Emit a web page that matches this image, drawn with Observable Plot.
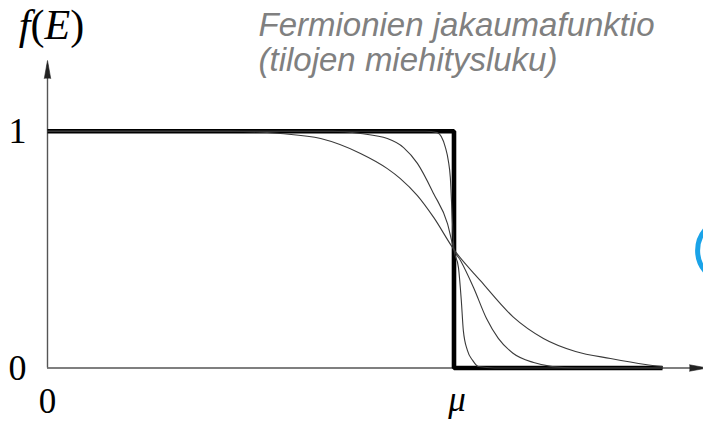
<!DOCTYPE html>
<html>
<head>
<meta charset="utf-8">
<script src="https://cdn.jsdelivr.net/npm/d3@7"></script>
<script src="https://cdn.jsdelivr.net/npm/@observablehq/plot@0.6"></script>
<style>
  html, body { margin: 0; padding: 0; background: #fff; overflow: hidden; }
  #chart svg { display: block; overflow: hidden; }
</style>
</head>
<body>
<div id="chart"></div>
<script>
// Energy E in units of the chemical potential μ, f = occupation number.

// T = 0: sharp step at μ
const stepE = [0, 1, 1, 1.513];
const stepF = [1, 1, 0, 0];

// low temperature
const lowE = [0, 0.93, 0.959, 0.979, 0.986, 0.991, 0.996, 1.0, 1.011, 1.018, 1.023, 1.033, 1.046, 1.060, 1.10, 1.513];
const lowF = [1, 1, 0.994, 0.931, 0.876, 0.804, 0.623, 0.5, 0.424, 0.285, 0.158, 0.074, 0.032, 0.006, 0, 0];

// medium temperature
const midE = [0, 0.70, 0.770, 0.836, 0.876, 0.910, 0.950, 0.984, 1.0, 1.016, 1.048, 1.080, 1.109, 1.146, 1.196, 1.242, 1.30, 1.513];
const midF = [1, 1, 0.990, 0.969, 0.931, 0.864, 0.736, 0.610, 0.5, 0.454, 0.340, 0.209, 0.125, 0.061, 0.023, 0.006, 0, 0];

// high temperature
const highE = [0, 0.45, 0.573, 0.672, 0.770, 0.836, 0.868, 0.910, 0.950, 1.0, 1.065, 1.146, 1.220, 1.299, 1.385, 1.471, 1.513];
const highF = [1, 1, 0.990, 0.969, 0.906, 0.842, 0.800, 0.728, 0.636, 0.5, 0.369, 0.215, 0.125, 0.070, 0.040, 0.015, 0.006];

// axis ticks
const yTickValues = [1, 0];
const yTickLabels = ["1", "0"];
const xTickValues = [0, 1];
const xTickLabels = ["0", "μ"];

const axisLabel = "f(E)";
const title = "Fermionien jakaumafunktio\n(tilojen miehitysluku)";

// blue ring at the right edge
const ringE = [1.678];
const ringF = [0.496];

const rows = (es, fs) => es.map((e, i) => ({E: e, f: fs[i]}));

const xMax = 1.6138;   // right end of the E axis
const yMax = 1.2986;   // top of the f axis
const xArrowTip = 1.6236;

const axisColor = "#555";
const thin = {x: "E", y: "f", stroke: "#3a3a3a", strokeWidth: 1.1, curve: "monotone-x"};
const serif = "Liberation Serif, Times New Roman, serif";

const svg = Plot.plot({
  width: 703,
  height: 421,
  marginLeft: 47,
  marginRight: 0,
  marginTop: 60,
  marginBottom: 53.5,
  x: {domain: [0, xMax], axis: null},
  y: {domain: [0, yMax], axis: null},
  marks: [
    // axes
    Plot.ruleY([0], {x1: 0, x2: xArrowTip - 0.02, stroke: axisColor, strokeWidth: 1.4}),
    Plot.ruleX([0], {y1: 0, y2: yMax - 0.02, stroke: axisColor, strokeWidth: 1.4}),
    Plot.vector([{E: 0, f: yMax}], {x: "E", y: "f", rotate: 0, length: 18, r: 3.2, shape: "spike", anchor: "end", fill: "#222", stroke: "#222", strokeWidth: 0.6}),
    Plot.vector([{E: xArrowTip, f: 0}], {x: "E", y: "f", rotate: 90, length: 18, r: 3.2, shape: "spike", anchor: "end", fill: "#222", stroke: "#222", strokeWidth: 0.6}),

    // T = 0 step
    Plot.line(rows(stepE, stepF), {x: "E", y: "f", stroke: "#000", strokeWidth: 4.6, strokeLinejoin: "miter", strokeLinecap: "butt"}),

    // finite temperatures
    Plot.line(rows(lowE, lowF), thin),
    Plot.line(rows(midE, midF), thin),
    Plot.line(rows(highE, highF), thin),

    // tick labels
    Plot.text(yTickValues, {y: d => d, frameAnchor: "left", text: (d, i) => yTickLabels[i], dx: -21, textAnchor: "end", fontSize: 36, fontFamily: serif, fill: "#000"}),
    Plot.text(xTickValues, {x: d => d, frameAnchor: "bottom", text: (d, i) => xTickLabels[i], filter: (d, i) => i === 0, lineAnchor: "bottom", dy: 45, fontSize: 35, fontFamily: serif, fill: "#000"}),
    Plot.text(xTickValues, {x: d => d, frameAnchor: "bottom", text: (d, i) => xTickLabels[i], filter: (d, i) => i === 1, lineAnchor: "bottom", dy: 43, dx: 3, fontSize: 35, fontFamily: serif, fontStyle: "italic", fill: "#000"}),

    // axis label and title
    Plot.text([axisLabel], {text: d => d, frameAnchor: "top-left", dx: 4, dy: -22, lineAnchor: "bottom", textAnchor: "middle", fontSize: 42, fontFamily: serif, fontStyle: "italic", fill: "#000"}),
    Plot.text([title], {text: d => d, frameAnchor: "top-left", dx: 211, dy: 10, lineAnchor: "bottom", textAnchor: "start", fontSize: 33, lineHeight: 1.06, fontFamily: "Liberation Sans, Arial, sans-serif", fontStyle: "italic", fill: "#808080"}),

    // ring
    Plot.dot(rows(ringE, ringF), {x: "E", y: "f", r: 32, stroke: "#1aa3e8", strokeWidth: 5, fill: "none"})
  ]
});

// upright parentheses in f(E)
d3.select(svg).selectAll("text")
  .filter(function () { return this.textContent === axisLabel; })
  .each(function () {
    const t = d3.select(this);
    t.text(null);
    t.append("tspan").text("f");
    t.append("tspan").attr("font-style", "normal").text("(");
    t.append("tspan").text("E");
    t.append("tspan").attr("font-style", "normal").text(")");
  });

document.getElementById("chart").appendChild(svg);
</script>
</body>
</html>
